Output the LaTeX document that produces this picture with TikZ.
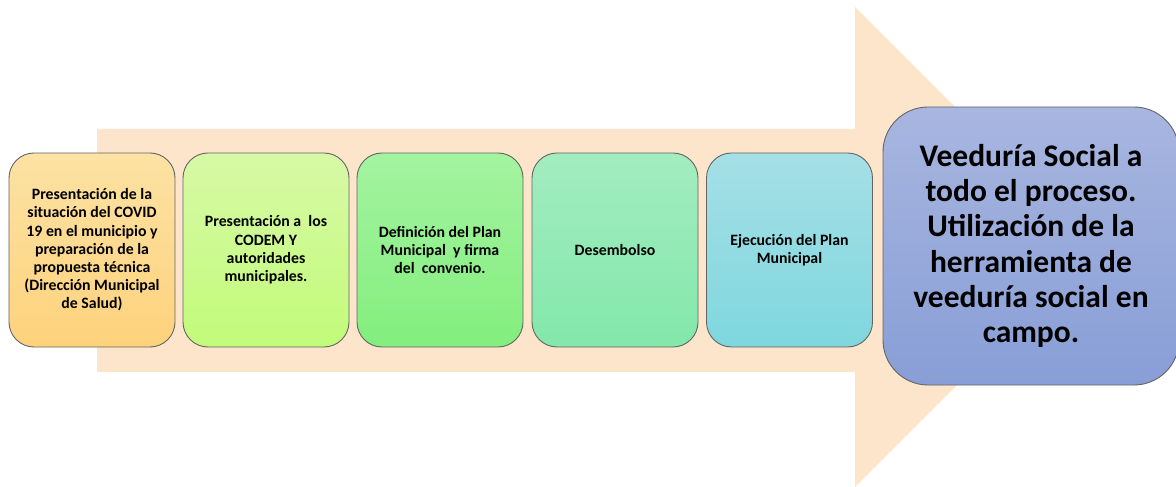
\documentclass[tikz,border=0pt]{standalone}
\usepackage{fontspec}
\setmainfont{Carlito}
\usetikzlibrary{calc}
\definecolor{arrowpeach}{HTML}{FDE5CB}
\definecolor{boxline}{HTML}{646464}
\definecolor{orangetop}{HTML}{FCE2A4}
\definecolor{orangebot}{HTML}{FED27C}
\definecolor{limetop}{HTML}{D7F9A6}
\definecolor{limebot}{HTML}{C2FB7A}
\definecolor{greentop}{HTML}{A4F3A0}
\definecolor{greenbot}{HTML}{83EE7E}
\definecolor{mintop}{HTML}{A3ECC0}
\definecolor{mintbot}{HTML}{83E8AA}
\definecolor{cyantop}{HTML}{A6DFE6}
\definecolor{cyanbot}{HTML}{7FD7DE}
\definecolor{bluetop}{HTML}{A8B6E0}
\definecolor{bluebot}{HTML}{889ED6}
\tikzset{
  stepbox/.style={draw=boxline,line width=0.9bp,rounded corners=25bp,minimum width=166bp,
    minimum height=194bp,inner sep=0pt,align=center,
    font=\bfseries\fontsize{15.8bp}{18.2bp}\selectfont},
  bigbox/.style={draw=boxline,line width=0.9bp,rounded corners=45bp,minimum width=296bp,
    minimum height=278bp,inner sep=0pt,align=center,
    font=\bfseries\fontsize{31.5bp}{35.3bp}\selectfont}
}
\newcommand\DrawStep[5]{
  \node[stepbox,top color=#3,bottom color=#4] (#1) at (#2,250) {#5};
}

\begin{document}
\begin{tikzpicture}[x=1bp,y=-1bp]
\useasboundingbox (0,0) rectangle (1176,487);
\fill[arrowpeach] (97,129) -- (855,129) -- (855,7) -- (1095,247)
  -- (855,487) -- (855,372) -- (97,372) -- cycle;
  \DrawStep{situacion}{92}{orangetop}{orangebot}{Presentación de la\\situación del COVID\\19 en el municipio y\\preparación de la\\propuesta técnica\\(Dirección Municipal\\de Salud)}
  \DrawStep{codem}{266}{limetop}{limebot}{Presentación a \ los\\CODEM Y\\autoridades\\municipales.}
  \DrawStep{definicion}{440}{greentop}{greenbot}{Definición del Plan\\Municipal \ y firma\\del \ convenio.}
  \DrawStep{desembolso}{615}{mintop}{mintbot}{Desembolso}
  \DrawStep{ejecucion}{789.5}{cyantop}{cyanbot}{Ejecución del Plan\\Municipal}
\node[bigbox,top color=bluetop,bottom color=bluebot] (veeduria) at (1031,246)
  {Veeduría Social a\\todo el proceso.\\Utilización de la\\herramienta de\\veeduría social en\\campo.};
\end{tikzpicture}
\end{document}
